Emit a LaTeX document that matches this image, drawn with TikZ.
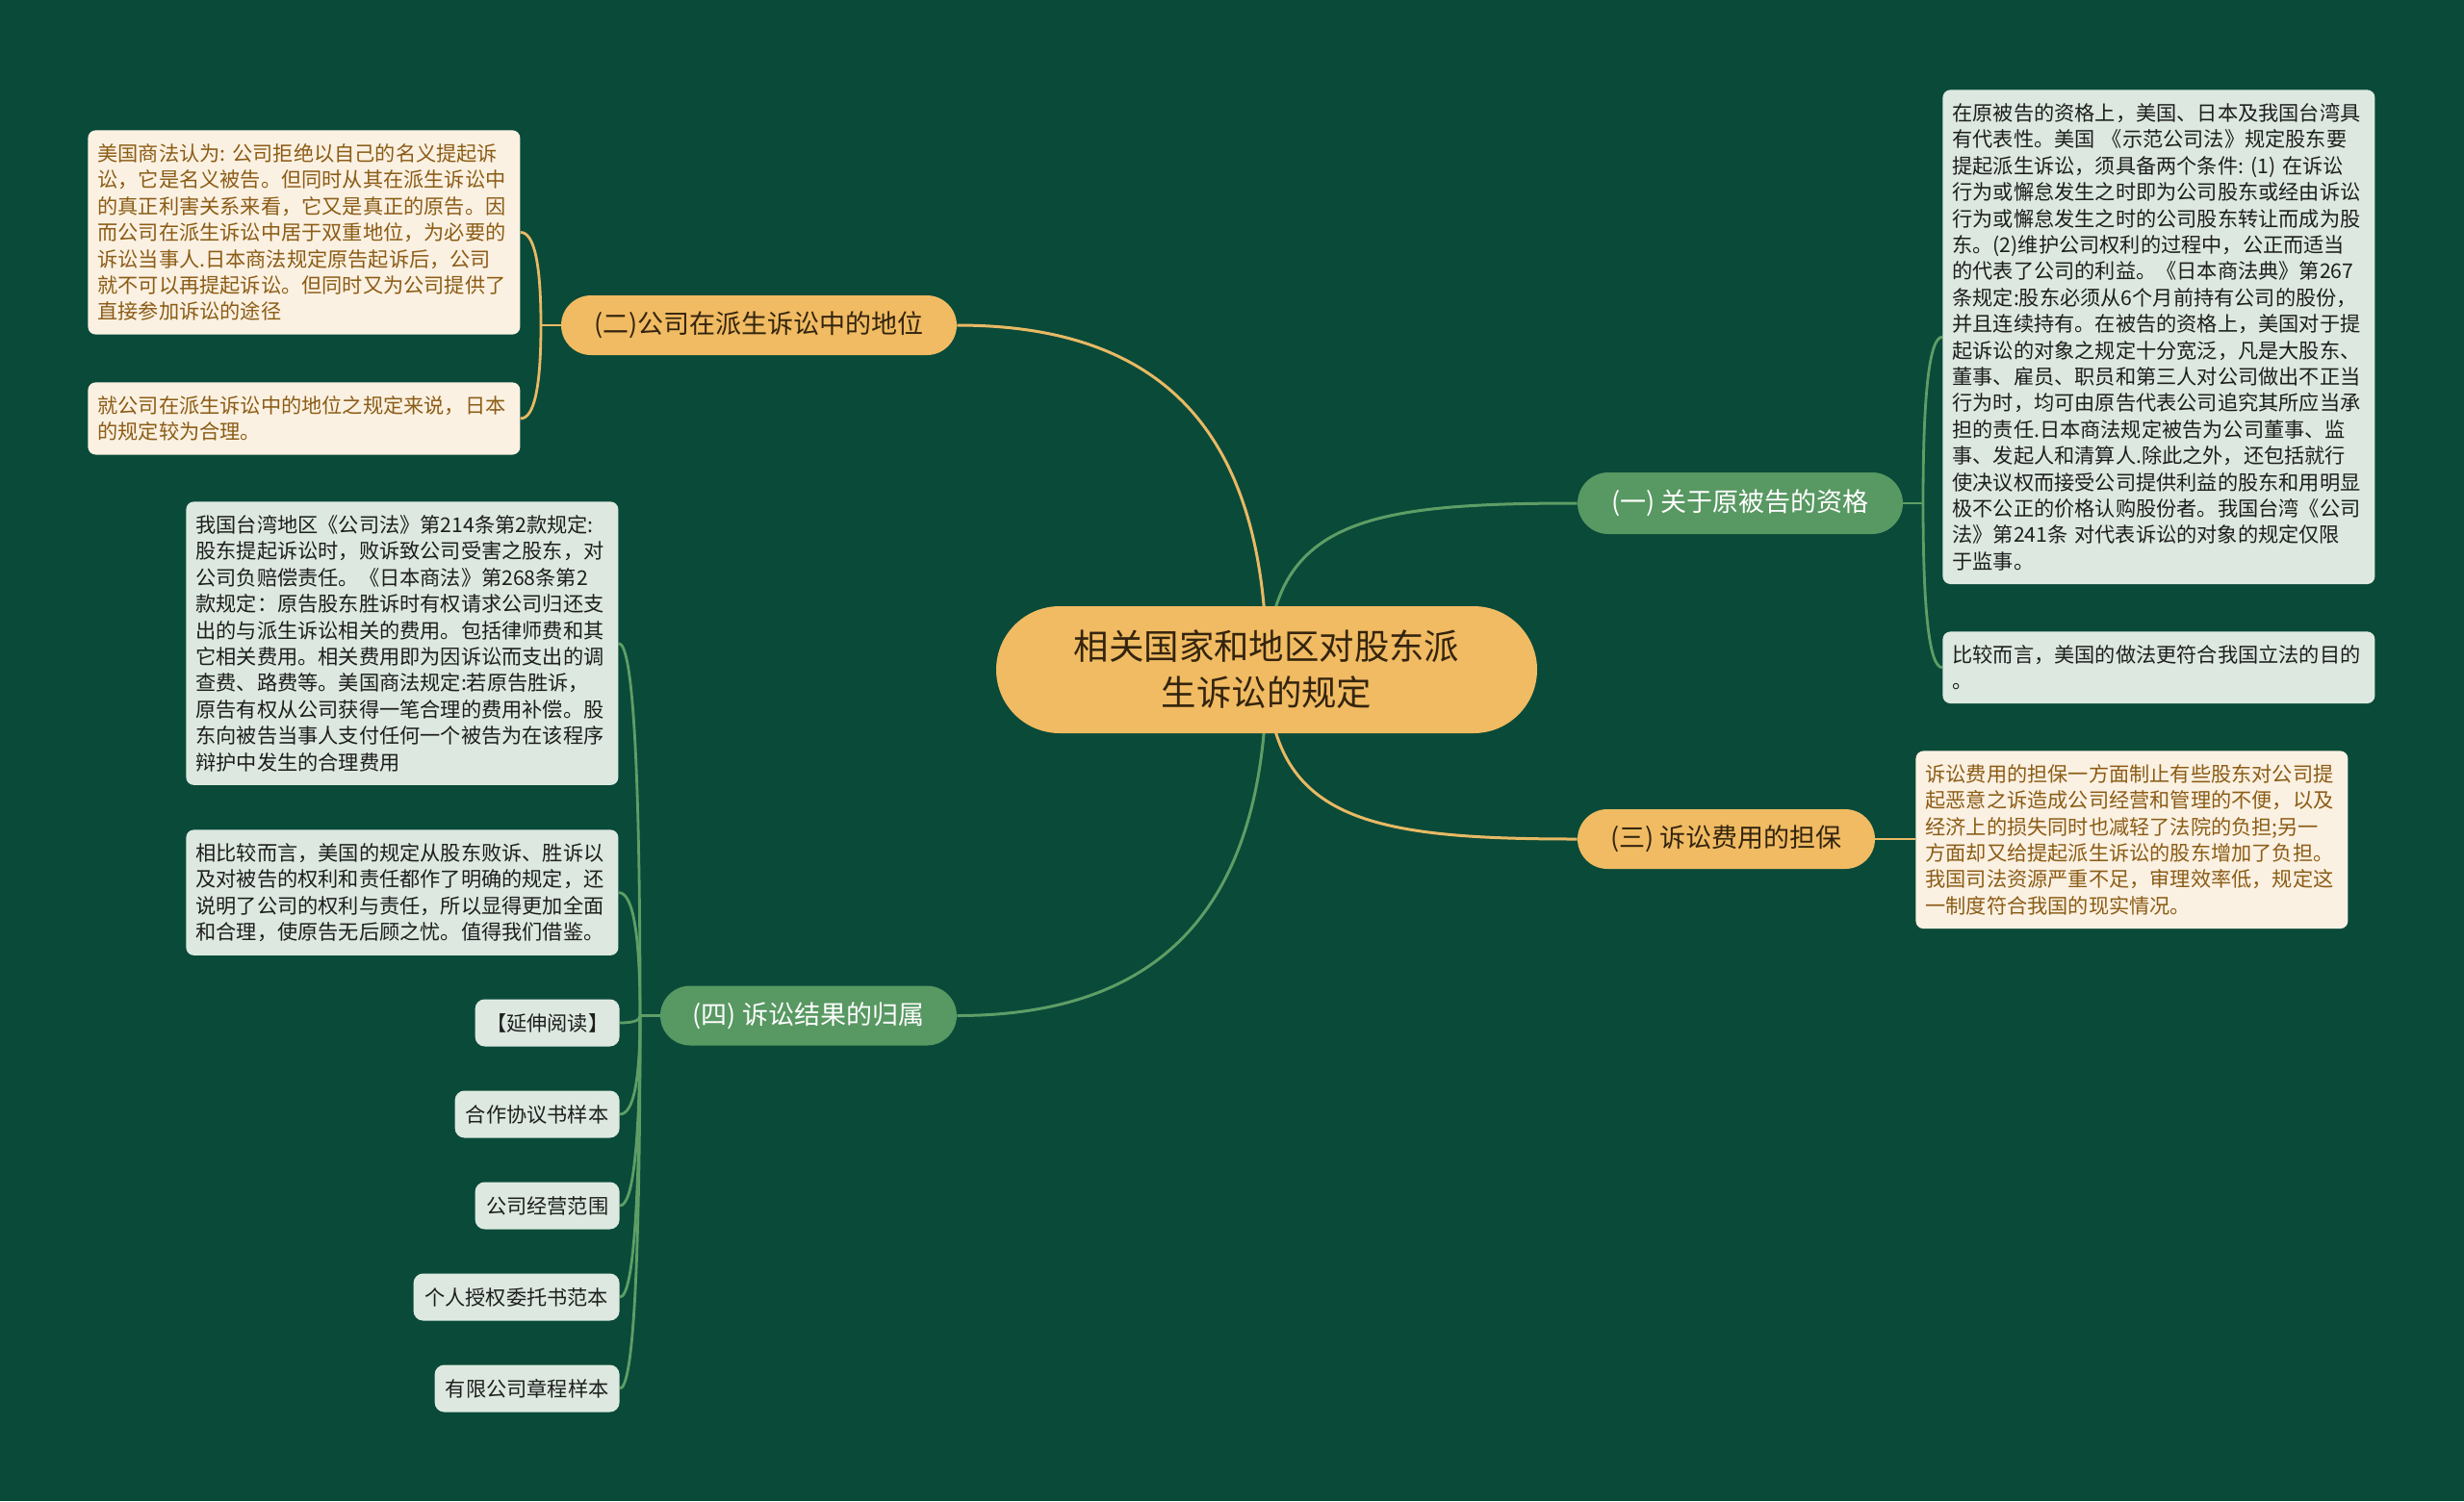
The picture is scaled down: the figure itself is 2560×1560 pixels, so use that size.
\documentclass[tikz,border=0pt]{standalone}
\usepackage{fontspec}
\setmainfont{Noto Sans CJK SC}
\usetikzlibrary{calc}
\definecolor{bgc}{RGB}{10,74,57}
\definecolor{orng}{RGB}{240,187,98}
\definecolor{gnode}{RGB}{88,152,98}
\definecolor{cream}{RGB}{251,241,226}
\definecolor{gleaf}{RGB}{221,233,224}
\definecolor{browntx}{RGB}{139,92,22}
\definecolor{darktx}{RGB}{30,30,30}
\definecolor{roottx}{RGB}{52,36,14}
\definecolor{olinec}{RGB}{232,185,100}
\definecolor{glinec}{RGB}{94,158,102}
\pgfdeclarelayer{bglayer}
\pgfdeclarelayer{edgelayer}
\pgfsetlayers{bglayer,edgelayer,main}
\tikzset{
  rootnode/.style={fill=orng, rounded corners=33pt, minimum width=281pt, minimum height=66pt,
    align=center, inner sep=0pt, text=roottx, font=\fontsize{18.2}{24}\selectfont},
  obranch/.style={fill=orng, rounded corners=15.5pt, minimum height=31pt, inner sep=0pt,
    text=roottx, font=\fontsize{13.5}{16}\selectfont},
  gbranch/.style={fill=gnode, rounded corners=15.5pt, minimum height=31pt, inner sep=0pt,
    text=white, font=\fontsize{13.5}{16}\selectfont},
  leafbase/.style={rounded corners=4pt, align=left, inner xsep=5pt, inner ysep=7pt,
    text width=214.5pt, anchor=north west, font=\fontsize{10.6}{13.7}\selectfont},
  cleaf/.style={leafbase, fill=cream, text=browntx},
  gleafbox/.style={leafbase, fill=gleaf, text=darktx},
  sleaf/.style={fill=gleaf, text=darktx, rounded corners=5pt, minimum height=24.5pt,
    inner sep=0pt, anchor=east, font=\fontsize{10.6}{13.7}\selectfont},
  oline/.style={draw=olinec, line width=1.5pt},
  gline/.style={draw=glinec, line width=1.5pt},
}
\begin{document}
\begin{tikzpicture}[x=0.5pt,y=-0.5pt]
\begin{pgfonlayer}{bglayer}
\fill[bgc] (0,0) rectangle (2560,1560);
\end{pgfonlayer}
\useasboundingbox (0,0) rectangle (2560,1560);

% root
\node[rootnode] (root) at (1316,696) {相关国家和地区对股东派\\生诉讼的规定};

% branches
\node[obranch, minimum width=205.5pt] (n2) at (788.5,338) {(二)公司在派生诉讼中的地位};
\node[gbranch, minimum width=169pt, minimum height=32pt, rounded corners=16pt] (n1) at (1808,523) {(一) 关于原被告的资格};
\node[obranch, minimum width=154.5pt] (n3) at (1793.5,872) {(三) 诉讼费用的担保};
\node[gbranch, minimum width=154pt] (n4) at (840,1055.5) {(四) 诉讼结果的归属};

% junctions
\coordinate (j2) at (562,338);
\coordinate (j1) at (1998,523);
\coordinate (j4) at (665,1055.5);

% leaves of (二)
\node[cleaf] (l1) at (91,135) {美国商法认为:~公司拒绝以自己的名义提起诉\\讼，它是名义被告。但同时从其在派生诉讼中\\的真正利害关系来看，它又是真正的原告。因\\而公司在派生诉讼中居于双重地位，为必要的\\诉讼当事人.日本商法规定原告起诉后，公司\\就不可以再提起诉讼。但同时又为公司提供了\\直接参加诉讼的途径};
\node[cleaf] (l2) at (91,397) {就公司在派生诉讼中的地位之规定来说，日本\\的规定较为合理。};

% leaves of (一)
\node[gleafbox] (r1) at (2018,93) {在原被告的资格上，美国、日本及我国台湾具\\有代表性。美国~《示范公司法》规定股东要\\提起派生诉讼，须具备两个条件:~(1)~在诉讼\\行为或懈怠发生之时即为公司股东或经由诉讼\\行为或懈怠发生之时的公司股东转让而成为股\\东。(2)维护公司权利的过程中，公正而适当\\的代表了公司的利益。《日本商法典》第267\\条规定:股东必须从6个月前持有公司的股份，\\并且连续持有。在被告的资格上，美国对于提\\起诉讼的对象之规定十分宽泛，凡是大股东、\\董事、雇员、职员和第三人对公司做出不正当\\行为时，均可由原告代表公司追究其所应当承\\担的责任.日本商法规定被告为公司董事、监\\事、发起人和清算人.除此之外，还包括就行\\使决议权而接受公司提供利益的股东和用明显\\极不公正的价格认购股份者。我国台湾《公司\\法》第241条~对代表诉讼的对象的规定仅限\\于监事。};
\node[gleafbox] (r2) at (2018,656) {比较而言，美国的做法更符合我国立法的目的\\。};

% leaf of (三)
\node[cleaf] (r3) at (1990,780) {诉讼费用的担保一方面制止有些股东对公司提\\起恶意之诉造成公司经营和管理的不便，以及\\经济上的损失同时也减轻了法院的负担;另一\\方面却又给提起派生诉讼的股东增加了负担。\\我国司法资源严重不足，审理效率低，规定这\\一制度符合我国的现实情况。};

% leaves of (四)
\node[gleafbox] (l4a) at (193,521) {我国台湾地区《公司法》第214条第2款规定:\\股东提起诉讼时，败诉致公司受害之股东，对\\公司负赔偿责任。《日本商法》第268条第2\\款规定：原告股东胜诉时有权请求公司归还支\\出的与派生诉讼相关的费用。包括律师费和其\\它相关费用。相关费用即为因诉讼而支出的调\\查费、路费等。美国商法规定:若原告胜诉，\\原告有权从公司获得一笔合理的费用补偿。股\\东向被告当事人支付任何一个被告为在该程序\\辩护中发生的合理费用};
\node[gleafbox] (l4b) at (193,862) {相比较而言，美国的规定从股东败诉、胜诉以\\及对被告的权利和责任都作了明确的规定，还\\说明了公司的权利与责任，所以显得更加全面\\和合理，使原告无后顾之忧。值得我们借鉴。};
\node[sleaf, minimum width=75pt] (l4c) at (644,1063) {【延伸阅读】};
\node[sleaf, minimum width=85.5pt] (l4d) at (644,1158) {合作协议书样本};
\node[sleaf, minimum width=75pt] (l4e) at (644,1253) {公司经营范围};
\node[sleaf, minimum width=107pt] (l4f) at (644,1348) {个人授权委托书范本};
\node[sleaf, minimum width=96pt] (l4g) at (644,1443) {有限公司章程样本};

\begin{pgfonlayer}{edgelayer}
% root to branches
\draw[oline] (root.center) .. controls (1316,440) and (1200,338) .. (n2.east);
\draw[gline] (root.center) .. controls (1320,540) and (1420,523) .. (n1.west);
\draw[oline] (root.center) .. controls (1320,852) and (1420,872) .. (n3.west);
\draw[gline] (root.center) .. controls (1316,950) and (1200,1055.5) .. (n4.east);
% (二) leaves
\draw[oline, line width=1.4pt] (n2.west) -- (j2);
\foreach \leaf in {l1,l2}{
  \draw[oline, line width=1.4pt] (j2) .. controls ($(j2)!0.667!(j2 |- \leaf.east)$) and ($(\leaf.east)!0.667!(j2 |- \leaf.east)$) .. (\leaf.east);
}
% (一) leaves
\draw[gline, line width=1.4pt] (n1.east) -- (j1);
\foreach \leaf in {r1,r2}{
  \draw[gline, line width=1.4pt] (j1) .. controls ($(j1)!0.667!(j1 |- \leaf.west)$) and ($(\leaf.west)!0.667!(j1 |- \leaf.west)$) .. (\leaf.west);
}
% (三) leaf
\draw[oline, line width=1.4pt] (n3.east) -- (r3.west |- n3.east);
% (四) leaves
\draw[gline, line width=1.4pt] (n4.west) -- (j4);
\foreach \leaf in {l4a,l4b,l4c,l4d,l4e,l4f,l4g}{
  \draw[gline, line width=1.4pt] (j4) .. controls ($(j4)!0.667!(j4 |- \leaf.east)$) and ($(\leaf.east)!0.667!(j4 |- \leaf.east)$) .. (\leaf.east);
}
\end{pgfonlayer}
\end{tikzpicture}
\end{document}
